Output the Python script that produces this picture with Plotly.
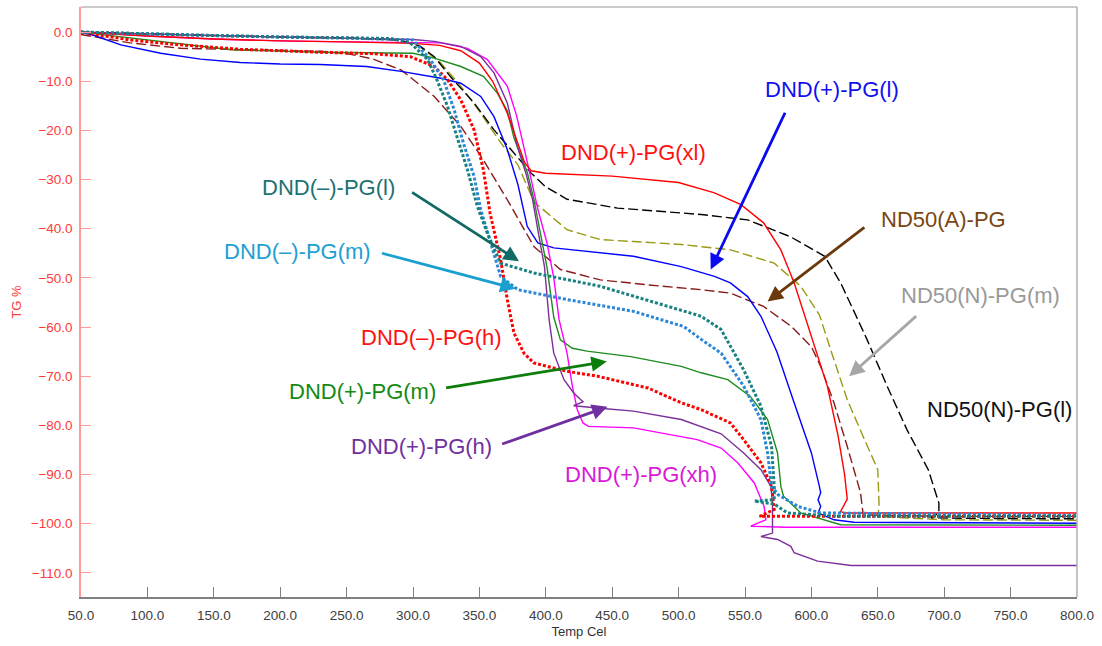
import plotly.graph_objects as go

# ---------------- data (Temp Cel, TG %) ----------------
T_xl = [50, 100, 150, 200, 250, 300, 320, 336, 350, 360, 371, 378, 384, 389, 400, 450, 500, 527, 547, 564, 577, 587, 597, 605, 612, 620, 625, 627, 622, 625, 700, 800]
TG_xl = [0, -0.8, -1.4, -1.8, -2.0, -2.3, -2.7, -3.8, -6.3, -10, -16.5, -22, -26.5, -28.2, -28.7, -29.3, -30.6, -32.7, -35.1, -38.8, -44.3, -51, -59.5, -66, -72, -82, -90, -95, -97.5, -97.8, -97.8, -97.8]

T_N_l = [50, 100, 150, 200, 250, 290, 305, 316, 328, 346, 361, 376, 389, 400, 416, 454, 517, 552, 584, 610, 622, 635, 642, 657, 672, 688, 696, 696, 690, 720, 800]
TG_N_l = [0, -0.4, -0.7, -1.0, -1.2, -1.6, -2.8, -5, -9, -14.4, -19.9, -24.6, -28.7, -31.5, -34, -35.8, -37.1, -38.2, -41.6, -45.6, -51, -58.5, -62.6, -72, -80.9, -89, -95.8, -97.8, -98.8, -98.9, -99.0]

T_N_m = [50, 100, 150, 200, 250, 290, 305, 320, 336, 351, 366, 379, 391, 416, 441, 466, 502, 539, 572, 592, 606, 615, 627, 640, 650, 651, 650, 700, 800]
TG_N_m = [0, -0.4, -0.7, -1.0, -1.2, -1.7, -3, -6, -11, -16.5, -22.5, -27, -34.5, -40.2, -42.2, -42.6, -43.2, -44.3, -47, -51.7, -57.5, -65, -74.8, -82.9, -89, -96.5, -98.5, -99.2, -99.3]

T_p_l = [50, 60, 80, 110, 140, 170, 200, 230, 265, 291, 321, 336, 351, 361, 371, 379, 386, 394, 406, 466, 502, 527, 539, 552, 562, 574, 587, 600, 606, 607, 605, 607, 605, 617, 632, 800]
TG_p_l = [0, -0.7, -2.6, -4.3, -5.5, -6.2, -6.5, -6.6, -7, -8, -9.4, -10.4, -13.1, -17.2, -23.9, -31, -39.5, -42.9, -43.9, -45.6, -47.7, -49.7, -51, -53.8, -57.8, -65, -75.4, -85.6, -92.4, -93.7, -95.1, -96.5, -97.8, -99.2, -99.7, -99.9]

T_A = [50, 87, 125, 180, 230, 253, 270, 291, 316, 336, 353, 371, 391, 411, 441, 480, 517, 539, 564, 585, 600, 607, 617, 627, 637, 639, 700, 800]
TG_A = [-0.5, -2.2, -3.3, -3.6, -3.9, -4.5, -5.5, -7.7, -13.1, -19.2, -26, -34.1, -43.6, -48.3, -50.4, -51.5, -52.4, -53.1, -55.8, -59.9, -64, -68, -75.4, -84.3, -93.7, -98.2, -98.5, -98.5]

T_m_l = [50, 100, 150, 200, 250, 283, 298, 311, 318, 326, 333, 341, 348.5, 356, 366, 391, 441, 491, 517, 532, 549, 562, 570, 572, 572, 557, 572, 582, 620, 800]
TG_m_l = [0, -0.4, -0.7, -1.0, -1.2, -1.3, -2.2, -5.6, -9.7, -15.1, -21.2, -28, -35.5, -40.9, -47, -49, -51.7, -55.8, -57.8, -60.5, -68.7, -76.1, -84.3, -92.4, -95.1, -95.4, -96, -97.8, -98.5, -98.5]

T_m_m = [50, 100, 150, 200, 250, 300, 313, 323, 331, 338, 346, 351, 361, 366, 379, 416, 466, 504, 517, 532, 549, 562, 567, 570, 575, 590, 607, 800]
TG_m_m = [0, -0.4, -0.7, -1.0, -1.2, -1.6, -5.6, -9.7, -15.8, -22.6, -29.4, -36.1, -44.9, -49.7, -52.4, -54.4, -56.8, -59.9, -62.5, -65.3, -72, -78.8, -85.6, -92.4, -94.1, -96.5, -97.8, -98.3]

T_m_h = [50, 87, 120, 170, 230, 270, 298, 316, 326, 336, 346, 353, 358, 366, 371, 376, 383.5, 391, 416, 439, 477, 502, 517, 539, 549, 562, 570, 572, 561, 600, 800]
TG_m_h = [0, -1.6, -2.5, -3.5, -4.1, -4.4, -5, -7, -9.7, -13.8, -19.9, -28, -36.8, -46.3, -54.4, -61.2, -65.3, -67.3, -69, -70, -72.4, -75.4, -76.8, -79.5, -82.9, -87.6, -92.4, -97.1, -98.5, -98.5, -98.5]

T_p_m = [50, 87, 130, 163, 230, 300, 316, 336, 353, 363.5, 371, 376, 386, 391, 396, 401, 406, 411, 420, 431, 464, 502, 517, 537, 554, 567, 574.5, 577, 579, 592, 622, 800]
TG_p_m = [0, -1.2, -2.6, -3.6, -4.1, -4.3, -5.3, -7, -9, -12.4, -16, -21.5, -28.5, -34, -41, -48, -58, -62.6, -64.3, -64.9, -66, -68, -69.3, -70.7, -74.1, -78.8, -85.6, -92.4, -94.4, -97.8, -100.2, -100.3]

T_p_h = [50, 100, 150, 200, 250, 300, 316, 336, 351, 361, 371, 378.6, 385, 390, 394.5, 399, 402.5, 406, 413.7, 421, 428, 421, 441, 466, 502, 517, 532, 549, 562, 569.5, 570.7, 570.7, 562, 574.5, 584.5, 587, 604.6, 630, 800]
TG_p_h = [0, -0.4, -0.7, -1.0, -1.2, -1.5, -1.9, -2.9, -5, -8.3, -14.4, -23.3, -28.7, -34, -41, -47.7, -58.5, -65.3, -70.7, -73.4, -75.2, -76, -76.5, -77.1, -78.8, -80.2, -81.7, -85.6, -89, -92.4, -95.8, -101.9, -102.6, -103.2, -104.6, -105.9, -107.6, -108.5, -108.5]

T_p_xh = [50, 100, 150, 200, 250, 300, 321, 341, 356, 371, 378, 384, 389, 394, 401, 406, 410, 416, 420, 423.7, 428, 432, 466, 514, 532, 544.5, 557, 564.4, 565.7, 554.4, 580, 800]
TG_p_xh = [0, -0.8, -1.4, -1.8, -2.0, -2.1, -2.2, -3.3, -5.6, -11, -17, -24, -30, -36, -43, -50, -58.5, -65.3, -72, -76.8, -79.5, -80.2, -80.5, -82.9, -84.6, -87.6, -91.7, -96.5, -99.2, -100.5, -100.7, -100.7]

x_ticks = [50, 100, 150, 200, 250, 300, 350, 400, 450, 500, 550, 600, 650, 700, 750, 800]
y_ticks = [0, -10, -20, -30, -40, -50, -60, -70, -80, -90, -100, -110]

series = [
    ("ND50(A)-PG", T_A, TG_A, "#8b1c1c", 1.4, "10px,4px"),
    ("ND50(N)-PG(m)", T_N_m, TG_N_m, "#9a9a14", 1.4, "10px,4px"),
    ("ND50(N)-PG(l)", T_N_l, TG_N_l, "#000000", 1.4, "10px,4px"),
    ("DND(+)-PG(l)", T_p_l, TG_p_l, "#0000ff", 1.4, "solid"),
    ("DND(+)-PG(m)", T_p_m, TG_p_m, "#1e8c1e", 1.4, "solid"),
    ("DND(+)-PG(xh)", T_p_xh, TG_p_xh, "#ff00ff", 1.4, "solid"),
    ("DND(+)-PG(h)", T_p_h, TG_p_h, "#7b2f9b", 1.4, "solid"),
    ("DND(+)-PG(xl)", T_xl, TG_xl, "#ff0000", 1.4, "solid"),
    ("DND(-)-PG(h)", T_m_h, TG_m_h, "#ff0000", 3, "3px,2px"),
    ("DND(-)-PG(m)", T_m_m, TG_m_m, "#2a86d6", 3, "3px,2px"),
    ("DND(-)-PG(l)", T_m_l, TG_m_l, "#178080", 3, "3px,2px"),
]

fig = go.Figure()
for name, xs, ys, col, w, dash in series:
    fig.add_trace(go.Scatter(x=xs, y=ys, mode="lines", name=name,
                             line=dict(color=col, width=w, dash=dash),
                             showlegend=False))

LBL = "Liberation Sans, Arial, sans-serif"
labels = [
    ("DND(+)-PG(xl)", 466.2, -24.5, "#ff1010"),
    ("DND(+)-PG(l)", 615.4, -11.7, "#1010f0"),
    ("ND50(A)-PG", 699.4, -38.2, "#7a4612"),
    ("ND50(N)-PG(m)", 727.7, -53.6, "#999999"),
    ("ND50(N)-PG(l)", 741.3, -76.8, "#111111"),
    ("DND(\u2013)-PG(l)", 236.7, -31.7, "#1c7272"),
    ("DND(\u2013)-PG(m)", 213.0, -44.6, "#1ca0d2"),
    ("DND(\u2013)-PG(h)", 313.6, -62.1, "#ff1010"),
    ("DND(+)-PG(m)", 262.0, -73.1, "#138a13"),
    ("DND(+)-PG(h)", 306.1, -84.3, "#7030a0"),
    ("DND(+)-PG(xh)", 471.5, -90.0, "#d81ad8"),
]
for txt, x, y, col in labels:
    fig.add_annotation(x=x, y=y, xref="x", yref="y", text=txt, showarrow=False,
                       font=dict(family=LBL, size=22, color=col))

arrows = [
    (524.2, -48.3, 580.7, -16.1, "#0a0af0"),
    (567.0, -54.8, 641.0, -39.5, "#6b3a0c"),
    (628.4, -70.0, 680.0, -57.5, "#a6a6a6"),
    (379.8, -46.6, 298.2, -32.4, "#116a64"),
    (377.3, -52.2, 275.5, -44.9, "#1aa0cf"),
    (445.9, -67.0, 323.8, -72.4, "#0b7d0b"),
    (446.4, -76.2, 366.0, -83.9, "#7030a0"),
]
for x, y, ax, ay, col in arrows:
    fig.add_annotation(x=x, y=y, ax=ax, ay=ay, xref="x", yref="y", axref="x", ayref="y",
                       text="", showarrow=True, arrowhead=2, arrowsize=1.1,
                       arrowwidth=2.8, arrowcolor=col)

# frame (top and right borders)
fig.add_shape(type="line", xref="paper", yref="paper", x0=0, x1=1, y0=1, y1=1,
              line=dict(color="#b8b8b8", width=1.5))
fig.add_shape(type="line", xref="paper", yref="paper", x0=1, x1=1, y0=0, y1=1,
              line=dict(color="#b0b0b0", width=1.5))

TICKF = "Liberation Sans, Arial, sans-serif"
fig.update_xaxes(range=[50, 800], tickvals=x_ticks, tickformat=".1f",
                 showline=True, linecolor="#808080", linewidth=2,
                 ticks="inside", ticklen=10, tickcolor="#808080", tickwidth=1,
                 showgrid=False, zeroline=False, ticklabelstandoff=5,
                 tickfont=dict(family=TICKF, size=13.5, color="#404040"),
                 title=dict(text="Temp Cel", font=dict(family=TICKF, size=13, color="#333333"),
                            standoff=5))
fig.update_yaxes(range=[-114.9, 5.1], tickvals=y_ticks, tickformat=".1f",
                 showline=True, linecolor="#ff9a9a", linewidth=1.5,
                 ticks="inside", ticklen=10, tickcolor="#ff9a9a", tickwidth=1,
                 showgrid=False, zeroline=False, ticklabelstandoff=4,
                 tickfont=dict(family=TICKF, size=13.5, color="#ff3a3a"),
                 title=dict(text="TG %", font=dict(family=TICKF, size=13, color="#ff3a3a"),
                            standoff=6))

fig.update_layout(width=1102, height=646, autosize=False,
                  margin=dict(l=81, r=25, t=7, b=49, autoexpand=False),
                  paper_bgcolor="white", plot_bgcolor="white", showlegend=False)

fig.write_html("out.html", config={"displayModeBar": False},
               post_script="document.body.style.margin='0px';")
